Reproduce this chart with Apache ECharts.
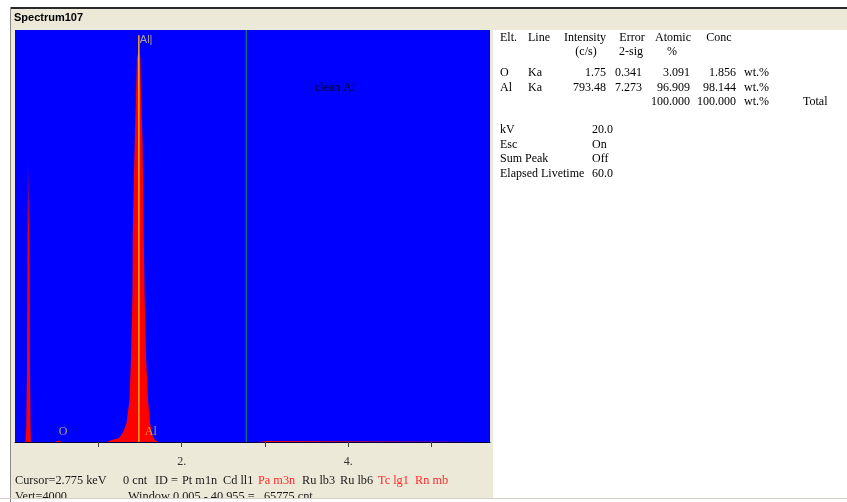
<!DOCTYPE html>
<html><head><meta charset="utf-8">
<script src="https://cdn.jsdelivr.net/npm/echarts@6/dist/echarts.min.js"></script>
<style>html,body{margin:0;padding:0;background:#fff}#c{width:847px;height:502px}</style>
</head><body><div id="c"></div>
<script>
// ---- data ----
const spectrumKeV    = [0, 0.125, 0.135, 0.144, 0.147, 0.150, 0.155, 0.169, 0.174, 0.177, 0.180, 0.186, 0.19,
                        0.48, 0.50, 0.52, 0.54, 0.56,
                        1.10, 1.16, 1.25, 1.30, 1.338, 1.374, 1.392, 1.41, 1.413, 1.437, 1.452, 1.463, 1.485,
                        1.504, 1.512, 1.530, 1.545, 1.554, 1.572, 1.596, 1.62, 1.65, 1.68, 1.72,
                        2.94, 2.96, 3.00, 3.02, 5.7];
const spectrumCounts = [0, 0, 146, 700, 1260, 1738, 2720, 2720, 1738, 1260, 700, 146, 0,
                        0, 15, 15, 10, 0,
                        0, 19, 40, 100, 184, 408, 825, 1476, 2029, 2932, 3369, 3728, 3800,
                        3728, 3369, 2932, 2029, 1476, 825, 408, 184, 60, 19, 0,
                        0, 10, 10, 0, 0];
const xTickValues  = [1, 2, 3, 4, 5];
const xLabelValues = [2, 4];
const xLabelTexts  = ['2.', '4.'];
const markerNames  = ['O', 'Al'];
const markerKeV    = [0.525, 1.486];
const alMarkerTop  = 3950;
const cursorKeV    = 2.775;
const vertFullScale = 4000;
const energyMax    = 5.7;

const tblElt       = ['O', 'Al'];
const tblLine      = ['Ka', 'Ka'];
const tblIntensity = ['1.75', '793.48'];
const tblError     = ['0.341', '7.273'];
const tblAtomic    = ['3.091', '96.909'];
const tblConc      = ['1.856', '98.144'];
const tblTotals    = ['100.000', '100.000'];
const paramNames   = ['kV', 'Esc', 'Sum Peak', 'Elapsed Livetime'];
const paramValues  = ['20.0', 'On', 'Off', '60.0'];
const statusLine1  = [['Cursor=2.775 keV', 0], ['0 cnt', 0], ['ID = ', 0], ['Pt m1n', 0], ['Cd ll1', 0],
                      ['Pa m3n', 1], ['Ru lb3', 0], ['Ru lb6', 0], ['Tc lg1', 1], ['Rn mb', 1]];
const statusLine1X = [15, 123, 155, 182, 223, 258, 302, 340, 378, 415];

// ---- chart ----
const chart = echarts.init(document.getElementById('c'), null, {renderer: 'canvas'});
const serif = '"Liberation Serif", "Times New Roman", serif';
const BEIGE = '#ECE9D8';

function T(text, x, y, o) {
  o = o || {};
  return {type: 'text', x: x, y: y, z: o.z || 100, silent: true,
    style: {text: text, font: o.font || ('12px ' + serif), fill: o.fill || '#000',
            textAlign: o.align || 'left', textVerticalAlign: 'middle'}};
}

const g = [];
// panels
g.push({type: 'rect', z: -1, shape: {x: 11, y: 9, width: 836, height: 21}, style: {fill: BEIGE}});
g.push({type: 'rect', z: -1, shape: {x: 11, y: 9, width: 482, height: 490}, style: {fill: BEIGE}});
g.push({type: 'rect', z: -1, shape: {x: 493, y: 30, width: 354, height: 468}, style: {fill: '#ffffff'}});
g.push({type: 'rect', z: 150, shape: {x: 10, y: 7, width: 837, height: 2}, style: {fill: '#2a2a2a'}});
g.push({type: 'rect', z: 150, shape: {x: 10, y: 7, width: 1, height: 495}, style: {fill: '#8a8a8a'}});
g.push({type: 'rect', z: 200, shape: {x: 0, y: 498, width: 847, height: 1}, style: {fill: '#d4d0c8'}});
g.push({type: 'rect', z: 200, shape: {x: 0, y: 499, width: 847, height: 3}, style: {fill: '#ffffff'}});
g.push({type: 'rect', z: 200, shape: {x: 10, y: 499, width: 1, height: 3}, style: {fill: '#8a8a8a'}});

g.push(T('Spectrum107', 14, 18, {font: 'bold 11px "Liberation Sans", Arial, sans-serif'}));
g.push(T('clean Al', 315, 88, {font: '12px ' + serif, fill: '#000018'}));

// table
const cx = {elt: 500, line: 528, inten: 606, err: 642, atom: 690, conc: 736, wt: 744};
g.push(T('Elt.', cx.elt, 38));
g.push(T('Line', cx.line, 38));
g.push(T('Intensity', 585, 38, {align: 'center'}));
g.push(T('(c/s)', 586, 52, {align: 'center'}));
g.push(T('Error', 632, 38, {align: 'center'}));
g.push(T('2-sig', 631, 52, {align: 'center'}));
g.push(T('Atomic', 673, 38, {align: 'center'}));
g.push(T('%', 672, 52, {align: 'center'}));
g.push(T('Conc', 719, 38, {align: 'center'}));
for (let i = 0; i < tblElt.length; i++) {
  const y = 73 + i * 15;
  g.push(T(tblElt[i], cx.elt, y));
  g.push(T(tblLine[i], cx.line, y));
  g.push(T(tblIntensity[i], cx.inten, y, {align: 'right'}));
  g.push(T(tblError[i], cx.err, y, {align: 'right'}));
  g.push(T(tblAtomic[i], cx.atom, y, {align: 'right'}));
  g.push(T(tblConc[i], cx.conc, y, {align: 'right'}));
  g.push(T('wt.%', cx.wt, y));
}
g.push(T(tblTotals[0], cx.atom, 102, {align: 'right'}));
g.push(T(tblTotals[1], cx.conc, 102, {align: 'right'}));
g.push(T('wt.%', cx.wt, 102));
g.push(T('Total', 803, 102));
for (let i = 0; i < paramNames.length; i++) {
  const y = 130 + i * 14.5;
  g.push(T(paramNames[i], 500, y));
  g.push(T(paramValues[i], 592, y));
}
// status bar
for (let i = 0; i < statusLine1.length; i++) {
  g.push(T(statusLine1[i][0], statusLine1X[i], 481,
    {font: '12.3px ' + serif, fill: statusLine1[i][1] ? '#ff2a2a' : '#1a1a1a'}));
}
g.push(T('Vert=4000', 15, 497, {font: '12.3px ' + serif, fill: '#1a1a1a'}));
g.push(T('Window 0.005 - 40.955 =   65775 cnt', 128, 497, {font: '12.3px ' + serif, fill: '#1a1a1a'}));

const spectrum = spectrumKeV.map((k, i) => [k, spectrumCounts[i]]);

chart.setOption({
  animation: false,
  backgroundColor: '#ffffff',
  grid: {left: 15, top: 30, width: 475, height: 412, show: true, backgroundColor: '#0000FF', borderWidth: 0, containLabel: false},
  xAxis: {
    type: 'value', min: 0, max: energyMax, interval: 1,
    splitLine: {show: false},
    axisLine: {show: true, lineStyle: {color: '#000040', width: 1}},
    axisTick: {show: true, length: 5, lineStyle: {color: '#404040'}, customValues: xTickValues},
    axisLabel: {show: true, customValues: xLabelValues, margin: 14,
      formatter: v => { const i = xLabelValues.indexOf(Math.round(v)); return i >= 0 ? xLabelTexts[i] : ''; },
      fontFamily: serif, fontSize: 12, color: '#333'}
  },
  yAxis: {type: 'value', min: 0, max: vertFullScale, show: false, splitLine: {show: false}},
  series: [
    {type: 'line', data: spectrum, showSymbol: false, symbol: 'none', silent: true, sampling: null,
     lineStyle: {width: 0, color: '#ff0000'}, areaStyle: {color: '#ff0000', opacity: 1}, z: 2},
    {type: 'line', data: [[markerKeV[1], 0], [markerKeV[1], alMarkerTop]], showSymbol: false, symbol: 'none', silent: true,
     lineStyle: {width: 1.5, color: '#ffa020'}, z: 3},
    {type: 'line', data: [[cursorKeV, 0], [cursorKeV, vertFullScale]], showSymbol: false, symbol: 'none', silent: true,
     lineStyle: {width: 1, color: '#119944'}, z: 3},
    {type: 'scatter', symbolSize: 0, silent: true, z: 4,
     data: [[markerKeV[1], alMarkerTop]],
     label: {show: true, position: 'right', distance: 1, offset: [0, 5], formatter: markerNames[1] + '|',
             color: '#d8c890', fontSize: 11, fontFamily: '"Liberation Sans", Arial, sans-serif'}},
    {type: 'scatter', symbolSize: 0, silent: true, z: 4,
     data: [
       {value: [markerKeV[0], 100], label: {distance: 0}},
       {value: [markerKeV[1], 100], label: {distance: 6}}
     ],
     label: {show: true, position: 'right',
             formatter: p => markerNames[p.dataIndex],
             color: '#e0c050', fontSize: 12, fontFamily: serif}}
  ],
  graphic: {elements: g}
});
</script></body></html>
